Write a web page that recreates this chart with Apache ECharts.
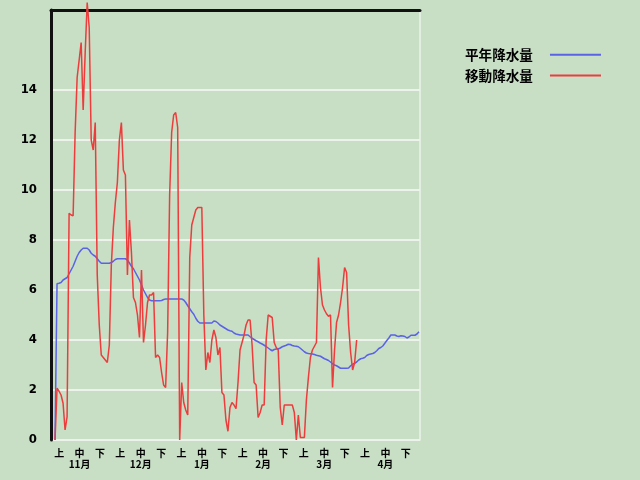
<!DOCTYPE html>
<html><head><meta charset="utf-8">
<script src="https://cdn.jsdelivr.net/npm/echarts@6/dist/echarts.min.js"></script>
<style>html,body{margin:0;padding:0;background:#c8dfc6}#c{width:640px;height:480px}</style>
</head><body><div id="c"></div>
<script>
const months = ['11月', '12月', '1月', '2月', '3月', '4月'];
const dekads = ['上', '中', '下'];
const seriesNames = ['平年降水量', '移動降水量'];
const yTickInterval = 2;
const yMaxLabelled = 14;

// daily values, starting the day before 11月上
const normalRain = [0, 6.25, 6.27, 6.3, 6.4, 6.45, 6.5, 6.65, 6.8, 6.95,
 7.15, 7.35, 7.5, 7.6, 7.67, 7.67, 7.67, 7.6, 7.47, 7.4,
 7.35, 7.25, 7.15, 7.07, 7.07, 7.07, 7.07, 7.07, 7.1, 7.15,
 7.22, 7.25, 7.25, 7.25, 7.25, 7.25, 7.2, 7.08, 6.95, 6.85,
 6.7, 6.55, 6.4, 6.2, 6.0, 5.85, 5.7, 5.6, 5.57, 5.57,
 5.57, 5.57, 5.57, 5.58, 5.62, 5.64, 5.64, 5.64, 5.64, 5.64,
 5.64, 5.64, 5.64, 5.64, 5.6, 5.5, 5.37, 5.25, 5.13, 5.03,
 4.87, 4.75, 4.68, 4.68, 4.68, 4.68, 4.68, 4.68, 4.68, 4.76,
 4.74, 4.68, 4.6, 4.55, 4.5, 4.45, 4.4, 4.37, 4.35, 4.28,
 4.24, 4.22, 4.2, 4.2, 4.2, 4.2, 4.2, 4.13, 4.07, 4.02,
 3.97, 3.93, 3.88, 3.84, 3.79, 3.74, 3.68, 3.62, 3.57, 3.62,
 3.64, 3.64, 3.68, 3.73, 3.76, 3.79, 3.83, 3.82, 3.78, 3.76,
 3.75, 3.73, 3.67, 3.6, 3.53, 3.48, 3.46, 3.45, 3.44, 3.42,
 3.39, 3.37, 3.35, 3.3, 3.25, 3.22, 3.18, 3.12, 3.05, 3.0,
 2.97, 2.92, 2.87, 2.87, 2.87, 2.87, 2.88, 2.97, 3.03, 3.07,
 3.12, 3.2, 3.25, 3.27, 3.3, 3.38, 3.42, 3.44, 3.46, 3.5,
 3.57, 3.66, 3.7, 3.76, 3.87, 3.98, 4.08, 4.2, 4.2, 4.2,
 4.16, 4.14, 4.17, 4.16, 4.14, 4.08, 4.12, 4.19, 4.19, 4.19,
 4.24, 4.33];

const movingRain = [0, 2.07, 1.95, 1.8, 1.47, 0.4, 0.93, 9.07, 9.0, 8.97,
 12.3, 14.5, 15.2, 15.9, 13.2, 15.5, 17.5, 16.5, 12.0, 11.6,
 12.7, 6.6, 4.6, 3.4, 3.3, 3.2, 3.1, 3.8, 7.0, 8.5,
 9.5, 10.3, 12.0, 12.7, 10.8, 10.6, 6.6, 8.8, 7.5, 5.7,
 5.5, 5.0, 4.1, 6.8, 3.9, 4.6, 5.5, 5.8, 5.8, 5.9,
 3.3, 3.4, 3.3, 2.7, 2.2, 2.1, 4.3, 9.8, 12.3, 13.0,
 13.1, 12.5, 0, 2.3, 1.5, 1.2, 1.0, 7.3, 8.6, 8.9,
 9.2, 9.3, 9.3, 9.3, 5.0, 2.8, 3.5, 3.1, 4.0, 4.4,
 4.1, 3.4, 3.7, 1.9, 1.8, 0.8, 0.35, 1.3, 1.5, 1.4,
 1.25, 2.3, 3.6, 3.9, 4.2, 4.6, 4.8, 4.8, 3.8, 2.3,
 2.2, 0.9, 1.1, 1.4, 1.4, 4.0, 5.0, 4.95, 4.9, 3.9,
 3.7, 3.6, 1.3, 0.6, 1.4, 1.4, 1.4, 1.4, 1.4, 1.1,
 0, 1.0, 0.1, 0.1, 0.1, 1.6, 2.5, 3.3, 3.6, 3.75,
 3.9, 7.3, 6.1, 5.4, 5.2, 5.05, 4.95, 5.0, 2.1, 3.6,
 4.7, 5.0, 5.5, 6.1, 6.9, 6.7, 4.6, 3.5, 2.8, 3.1,
 4.0];

const dekadCats = [];
months.forEach(m => dekads.forEach(d => dekadCats.push(m + '|' + d)));

const chart = echarts.init(document.getElementById('c'), null, {renderer: 'canvas'});
const lblFont = '"Noto Sans CJK JP", sans-serif';
const numFont = '"Liberation Sans Narrow", "DejaVu Sans Condensed", "Liberation Sans", sans-serif';
chart.setOption({
  backgroundColor: '#c8dfc6',
  animation: false,
  legend: {
    data: seriesNames,
    orient: 'vertical',
    left: 460, top: 43,
    align: 'right',
    itemWidth: 51, itemHeight: 14, itemGap: 7,
    selectedMode: false,
    itemStyle: {opacity: 0},
    textStyle: {fontSize: 13.6, fontWeight: 'bold', color: '#000', fontFamily: lblFont, padding: [0, 12, 0, 0]}
  },
  grid: [
    {left: 51, right: 220, top: 90, bottom: 40},
    {left: 49, right: 224, top: 90, bottom: 40},
    {left: 51, right: 220, top: 10, bottom: 40}
  ],
  xAxis: [
    {gridIndex: 0, type: 'value', min: -2, max: 181.5, show: false},
    {gridIndex: 1, type: 'category', data: dekadCats, boundaryGap: true,
      axisLine: {show: false}, axisTick: {show: false}, splitLine: {show: false},
      axisLabel: {interval: 0, margin: 8, fontSize: 10, fontWeight: 'bold', lineHeight: 11, color: '#000', fontFamily: lblFont,
        formatter: v => { const p = v.split('|'); return p[1] === '中' ? p[1] + '\n' + p[0] : p[1]; }}},
    {gridIndex: 2, type: 'value', min: 0, max: 1, position: 'top',
      axisLine: {show: true, onZero: false, lineStyle: {color: '#111', width: 3}},
      axisTick: {show: false}, axisLabel: {show: false}, splitLine: {show: false}}
  ],
  yAxis: [
    {gridIndex: 0, type: 'value', min: 0, max: yMaxLabelled, interval: yTickInterval,
      axisLine: {show: false}, axisTick: {show: false},
      axisLabel: {margin: 14, fontSize: 13, fontWeight: 'bold', color: '#000', fontFamily: numFont},
      splitLine: {show: true, lineStyle: {color: '#edf3eb', width: 2}}},
    {gridIndex: 1, type: 'value', show: false},
    {gridIndex: 2, type: 'value', min: 0, max: 1, position: 'left',
      axisLine: {show: true, onZero: false, lineStyle: {color: '#111', width: 3}},
      axisTick: {show: false}, axisLabel: {show: false}, splitLine: {show: false}},
    {gridIndex: 2, type: 'value', min: 0, max: 1, position: 'right',
      axisLine: {show: true, onZero: false, lineStyle: {color: '#edf3eb', width: 1.5}},
      axisTick: {show: false}, axisLabel: {show: false}, splitLine: {show: false}}
  ],
  series: [
    {name: seriesNames[0], type: 'line', xAxisIndex: 0, yAxisIndex: 0, symbol: 'none', clip: false,
      data: normalRain.map((v, i) => [i, v]), lineStyle: {color: '#5a62e6', width: 1.5}, itemStyle: {color: '#5a62e6'}, z: 3},
    {name: seriesNames[1], type: 'line', xAxisIndex: 0, yAxisIndex: 0, symbol: 'none', clip: false,
      data: movingRain.map((v, i) => [i, v]), lineStyle: {color: '#ec3c3c', width: 1.5}, itemStyle: {color: '#ec3c3c'}, z: 4}
  ]
});
</script></body></html>
